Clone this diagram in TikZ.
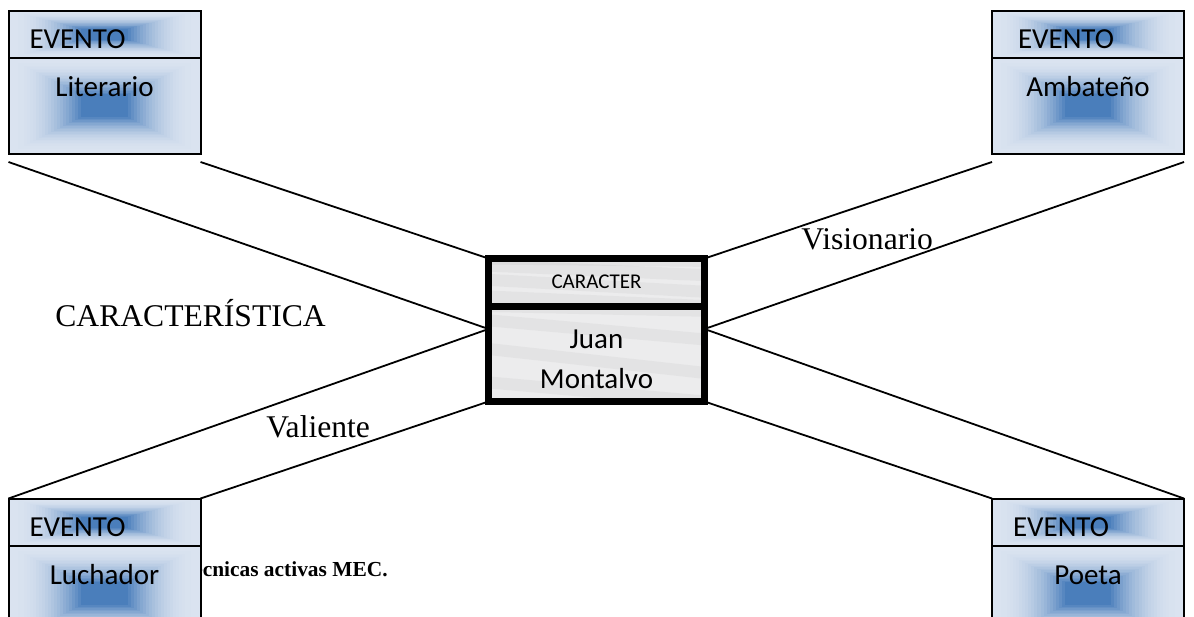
\documentclass[tikz,border=0pt]{standalone}
\usepackage{fontspec}
\setmainfont{Liberation Serif}
\newfontfamily\carlito{Carlito}
\usetikzlibrary{positioning,calc}
\pgfdeclarelayer{background}
\pgfsetlayers{background,main}
\definecolor{evlight}{RGB}{218,227,240}
\definecolor{evdark}{RGB}{74,126,187}
\definecolor{marble}{RGB}{236,236,237}

\begin{document}
\begin{tikzpicture}[x=0.5pt,y=-0.5pt,
      evfill/.style={path picture={
         \foreach \k [evaluate=\k as \p using int(100*(\k/24)^2.2)] in {0,...,24}
            \fill[evdark!\p!evlight]
               ($(path picture bounding box.south west)!\k*0.0158!(path picture bounding box.north east)$)
               rectangle
               ($(path picture bounding box.north east)!\k*0.0158!(path picture bounding box.south west)$);
         }},
      marblefill/.style={fill=marble, path picture={
         \foreach \s/\e in {0.2/0.0, 0.55/0.3, 0.85/0.65, 1.0/0.95}
            \draw[gray, opacity=0.08, line width=6pt]
               ($(path picture bounding box.south west)!\s!(path picture bounding box.north west)$)
               -- ($(path picture bounding box.south east)!\e!(path picture bounding box.north east)$);
         }},
      evhead/.style={
         rectangle,
         draw=black,
         line width=1pt,
         evfill,
         outer sep=0pt,
         inner ysep=0pt,
         inner xsep=10.5pt,
         minimum width=96pt,
         minimum height=23.75pt,
         text width=75pt,
         align=left,
         text height=14pt,
         text depth=0pt,
         font=\carlito\fontsize{14.5}{17}\selectfont},
      evbody/.style={
         rectangle,
         draw=black,
         line width=1pt,
         evfill,
         outer sep=0pt,
         inner sep=0pt,
         minimum width=96pt,
         minimum height=47.75pt,
         text height=9.5pt,
         text depth=18.5pt,
         font=\carlito\fontsize{14.5}{17}\selectfont},
      mbox/.style={
         rectangle,
         draw=black,
         line width=3.5pt,
         marblefill,
         outer sep=0pt,
         inner sep=0pt,
         minimum width=108pt,
         align=center},
      lbl/.style={inner sep=0pt, font=\fontsize{15.8}{19}\selectfont},
      conn/.style={line width=0.9pt}
      ]
      \useasboundingbox (0,0) rectangle (1194,616);
      \clip (0,0) rectangle (1194,616);

      % fuente, partly under the lower left box
      \node[anchor=base east, inner sep=0pt, font=\bfseries\fontsize{10.7}{13}\selectfont] (src) at (388,576) {Técnicas activas MEC.};

      % centre
      \node[mbox, minimum height=23.75pt, font=\carlito\fontsize{10.5}{12}\selectfont] (cap) at (596.5,282.25) {CARACTER};
      \node[mbox, minimum height=47.75pt, font=\carlito\fontsize{14.5}{20}\selectfont, below=0pt of cap] (jm) {\rule{0pt}{14.5pt}Juan\\Montalvo};

      % eventos
      \node[evhead] (lith) at (104.5,34.25) {EVENTO};
      \node[evbody, below=0pt of lith] (litb) {Literario};
      \node[evhead, inner xsep=13pt, text width=70pt] (ambh) at (1088,34.25) {EVENTO};
      \node[evbody, below=0pt of ambh] (ambb) {Ambateño};
      \node[evhead] (luch) at (104.5,522.25) {EVENTO};
      \node[evbody, below=0pt of luch] (lucb) {Luchador};
      \node[evhead] (poeh) at (1088,522.25) {EVENTO};
      \node[evbody, below=0pt of poeh] (poeb) {Poeta};

      % labels
      \node[lbl, anchor=base west] (carac) at (55,326) {CARACTERÍSTICA};
      \node[lbl, anchor=base west] (vis) at (801,249) {Visionario};
      \node[lbl, anchor=base west] (val) at (266,437) {Valiente};

      \coordinate (jl) at ([yshift=-11.5pt]jm.north west);
      \coordinate (jr) at ([yshift=-11.5pt]jm.north east);
      \coordinate (lita) at ([yshift=-4.25pt]litb.south west);
      \coordinate (litc) at ([yshift=-4.25pt]litb.south east);
      \coordinate (amba) at ([yshift=-4.25pt]ambb.south west);
      \coordinate (ambc) at ([yshift=-4.25pt]ambb.south east);

      \begin{pgfonlayer}{background}
      \foreach \i/\j in {% start/end
         lita/jl,
         litc/cap.north west,
         amba/cap.north east,
         ambc/jr,
         luch.north west/jl,
         luch.north east/jm.south west,
         poeh.north west/jm.south east,
         poeh.north east/jr}
         \draw[conn] (\i) -- (\j);
      \end{pgfonlayer}
\end{tikzpicture}
\end{document}
